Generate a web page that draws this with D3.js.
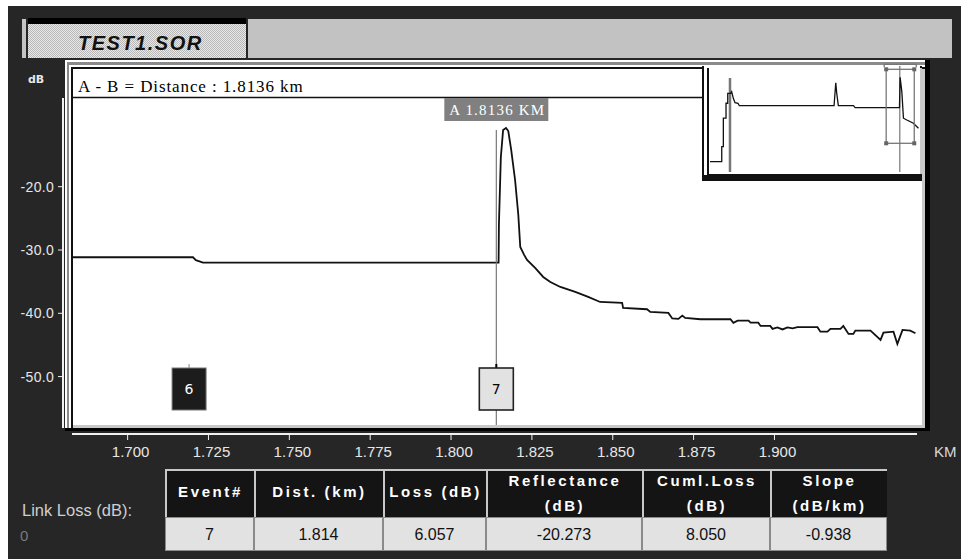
<!DOCTYPE html>
<html><head><meta charset="utf-8">
<script src="https://cdn.jsdelivr.net/npm/d3@7"></script>
<style>body{margin:0;background:#fff;}svg{display:block;}</style>
</head><body>
<svg id="c" width="964" height="559"></svg>
<script>
// ---------- DATA ----------
const fileName = "TEST1.SOR";
const distanceText = "A - B = Distance : 1.8136 km";
const cursorLabel = "A 1.8136 KM";
const cursorKm = 1.814;
const xTicks = [1.700, 1.725, 1.750, 1.775, 1.800, 1.825, 1.850, 1.875, 1.900];
const yTicks = [-20, -30, -40, -50];
const traceKm = [1.6828,1.7202,1.7211,1.7233,1.8147,1.8148,1.8154,1.8161,1.8170,1.8177,1.8186,1.8198,1.8208,1.8214,1.8226,1.8235,1.8260,1.8285,1.8307,1.8338,1.8384,1.8424,1.8461,1.8529,1.8532,1.8606,1.8616,1.8672,1.8684,1.8703,1.8715,1.8724,1.8771,1.8864,1.8873,1.8886,1.8920,1.8926,1.8950,1.8957,1.8987,1.8994,1.9009,1.9025,1.9040,1.9056,1.9071,1.9133,1.9142,1.9164,1.9173,1.9204,1.9213,1.9229,1.9244,1.9250,1.9297,1.9328,1.9337,1.9368,1.9380,1.9396,1.9420,1.9436];
const traceDb = [-31.15,-31.15,-31.6,-32.0,-32.0,-26.05,-15.31,-11.05,-10.73,-11.2,-14.2,-18.94,-24.47,-29.52,-30.78,-31.57,-32.84,-34.26,-35.05,-35.84,-36.63,-37.4,-38.21,-38.36,-39.15,-39.36,-39.79,-39.94,-40.81,-40.89,-40.37,-40.73,-40.94,-40.94,-41.52,-41.16,-41.16,-41.48,-41.48,-42.0,-42.0,-42.47,-42.23,-42.55,-42.23,-42.39,-42.2,-42.2,-42.9,-42.9,-42.47,-42.47,-42.0,-43.26,-43.26,-42.74,-42.74,-44.21,-43.05,-42.9,-44.84,-42.63,-42.74,-43.15];
const insetKm = [0.037,0.147,0.147,0.162,0.162,0.187,0.187,0.203,0.203,0.231,0.240,0.255,0.271,0.299,0.311,1.196,1.212,1.221,1.236,1.377,1.393,1.807,1.813,1.829,1.844,1.876,1.937,1.984];
const insetDb = [-71.85,-71.85,-60.2,-60.2,-38.2,-38.2,-26.6,-26.6,-18.9,-18.9,-17.6,-22.8,-26.2,-26.6,-28.5,-28.5,-10.7,-18.9,-28.5,-28.5,-30.0,-30.0,-6.5,-17.6,-38.2,-39.6,-42.1,-46.0];
const insetMarkersKm = [0.224, 1.81];
const eventIds = [6, 7];
const eventKm = [1.7190, 1.8140];
const tableHeaders = [["Event#"], ["Dist. (km)"], ["Loss (dB)"], ["Reflectance", "(dB)"], ["Cuml.Loss", "(dB)"], ["Slope", "(dB/km)"]];
const tableValues = ["7", "1.814", "6.057", "-20.273", "8.050", "-0.938"];
const linkLossLabel = "Link Loss (dB):";
const linkLossValue = "0";

// ---------- LAYOUT ----------
const svg = d3.select("#c");
const x = d3.scaleLinear().domain([1.6828, 1.945]).range([72, 920]);
const y = d3.scaleLinear().domain([-57.65, -0.3]).range([425, 62]);
const ix = d3.scaleLinear().domain([0, 1.98]).range([706, 918]);
const iy = d3.scaleLinear().domain([-0.3, -57.65]).range([69.3, 143.3]);

// background
svg.append("rect").attr("x",8).attr("y",6).attr("width",953).attr("height",553).attr("fill","#262626");

// title bar
const defs = svg.append("defs");
const pat = defs.append("pattern").attr("id","dith").attr("width",2).attr("height",2).attr("patternUnits","userSpaceOnUse");
pat.append("rect").attr("width",2).attr("height",2).attr("fill","#e8e8e8");
pat.append("rect").attr("width",1).attr("height",1).attr("fill","#b8b8b8");
pat.append("rect").attr("x",1).attr("y",1).attr("width",1).attr("height",1).attr("fill","#b8b8b8");
svg.append("rect").attr("x",22).attr("y",19).attr("width",4).attr("height",39).attr("fill","#c4c4c4");
svg.append("rect").attr("x",248).attr("y",19).attr("width",704).attr("height",39).attr("fill","#c2c2c2");
svg.append("rect").attr("x",28).attr("y",18).attr("width",218).attr("height",6).attr("fill","#000");
svg.append("rect").attr("x",28).attr("y",24).attr("width",218).attr("height",34).attr("fill","url(#dith)");
svg.append("text").attr("x",78).attr("y",50).text(fileName)
  .attr("font-family","Liberation Sans, Arial, sans-serif").attr("font-weight","bold").attr("font-style","italic")
  .attr("font-size",20).attr("letter-spacing",1.5).attr("fill","#111");

// plot frame
svg.append("rect").attr("x",65).attr("y",60).attr("width",865).attr("height",371).attr("fill","#000");
svg.append("rect").attr("x",65).attr("y",60).attr("width",860).attr("height",368).attr("fill","#fff");
svg.append("rect").attr("x",67).attr("y",62).attr("width",858).attr("height",366).attr("fill","#8a8a8a");
svg.append("rect").attr("x",69).attr("y",65).attr("width",856).attr("height",363).attr("fill","#fff");
svg.append("rect").attr("x",71).attr("y",67).attr("width",854).attr("height",361).attr("fill","#111");
svg.append("rect").attr("x",73).attr("y",69).attr("width",852).attr("height",359).attr("fill","#c8c8c8");
svg.append("rect").attr("x",73).attr("y",69).attr("width",849).attr("height",356).attr("fill","#fff");

// header line + text
svg.append("line").attr("x1",73).attr("x2",703).attr("y1",97.5).attr("y2",97.5).attr("stroke","#111").attr("stroke-width",1.5);
svg.append("text").attr("x",78).attr("y",92).text(distanceText)
  .attr("font-family","Liberation Serif, Times New Roman, serif").attr("font-size",17).attr("letter-spacing",0.9).attr("fill","#000");

// y axis
svg.append("line").attr("x1",63).attr("x2",63).attr("y1",98).attr("y2",428).attr("stroke","#f0f0f0").attr("stroke-width",2);
const ya = svg.append("g");
yTicks.forEach(v => {
  ya.append("line").attr("x1",58).attr("x2",63).attr("y1",y(v)).attr("y2",y(v)).attr("stroke","#f0f0f0").attr("stroke-width",1);
  ya.append("text").attr("x",54).attr("y",y(v)+5).attr("text-anchor","end").text(d3.format(".1f")(v).replace("−","-"))
    .attr("font-family","Liberation Sans, Arial, sans-serif").attr("font-size",14).attr("letter-spacing",0.3).attr("fill","#e6e6e6");
});
svg.append("text").attr("x",28).attr("y",83).text("dB").attr("font-family","DejaVu Sans, sans-serif").attr("font-weight","bold")
  .attr("font-size",11).attr("fill","#e8e8e8");

// x axis
svg.append("line").attr("x1",72).attr("x2",917).attr("y1",434).attr("y2",434).attr("stroke","#f0f0f0").attr("stroke-width",2);
const xa = svg.append("g");
xTicks.forEach(v => {
  xa.append("line").attr("x1",x(v)).attr("x2",x(v)).attr("y1",434).attr("y2",440).attr("stroke","#f0f0f0").attr("stroke-width",1);
  xa.append("text").attr("x",x(v)+3).attr("y",457).attr("text-anchor","middle").text(d3.format(".3f")(v))
    .attr("font-family","Liberation Sans, Arial, sans-serif").attr("font-size",15).attr("fill","#e6e6e6");
});
svg.append("text").attr("x",934).attr("y",457).text("KM").attr("font-family","Liberation Sans, Arial, sans-serif")
  .attr("font-size",15).attr("fill","#d8d8d8");

// trace
const trace = traceKm.map((k,i)=>[k, traceDb[i]]);
svg.append("path").datum(trace)
  .attr("d", d3.line().x(d=>x(d[0])).y(d=>y(d[1])))
  .attr("fill","none").attr("stroke","#111").attr("stroke-width",1.8).attr("stroke-linejoin","miter");

// cursor
svg.append("line").attr("x1",x(cursorKm)).attr("x2",x(cursorKm)).attr("y1",130).attr("y2",425).attr("stroke","#777").attr("stroke-width",1.2);
const lab = svg.append("g");
lab.append("rect").attr("x",x(cursorKm)-52).attr("y",98).attr("width",104).attr("height",23).attr("fill","#808080");
lab.append("text").attr("x",x(cursorKm)+1).attr("y",115).attr("text-anchor","middle").text(cursorLabel)
  .attr("font-family","Liberation Serif, Times New Roman, serif").attr("font-size",15).attr("letter-spacing",1.2).attr("fill","#fff");

// events
eventIds.forEach((id,i) => {
  const cx = x(eventKm[i]);
  const dark = i === 0;
  svg.append("line").attr("x1",cx).attr("x2",cx).attr("y1",364).attr("y2",368).attr("stroke", dark ? "#888" : "#000").attr("stroke-width", dark?1:2);
  svg.append("rect").attr("x",cx-17).attr("y",368).attr("width",34).attr("height",42)
    .attr("fill", dark ? "#1c1c1c" : "#e2e2e2").attr("stroke", dark ? "#777" : "#222").attr("stroke-width", dark?1:1.6);
  svg.append("text").attr("x",cx).attr("y",394).attr("text-anchor","middle").text(id)
    .attr("font-family","DejaVu Sans, sans-serif").attr("font-size",14).attr("fill", dark ? "#fff" : "#000");
});

// inset
svg.append("rect").attr("x",702).attr("y",66).attr("width",220).attr("height",115).attr("fill","#111");
svg.append("rect").attr("x",704).attr("y",66).attr("width",216).attr("height",109).attr("fill","#fff");
svg.append("rect").attr("x",707).attr("y",68).attr("width",213).attr("height",107).attr("fill","#111");
svg.append("rect").attr("x",709).attr("y",68).attr("width",211).attr("height",106).attr("fill","#fff");
svg.append("rect").attr("x",920).attr("y",68).attr("width",2).attr("height",106).attr("fill","#c8c8c8");
insetMarkersKm.forEach((k,i)=>{
  svg.append("line").attr("x1",ix(k)).attr("x2",ix(k)).attr("y1", i===0?78:66).attr("y2",172)
    .attr("stroke", "#777").attr("stroke-width", i===0?2.5:1.2);
});
const ins = insetKm.map((k,i)=>[k, insetDb[i]]);
svg.append("path").datum(ins).attr("d", d3.line().x(d=>ix(d[0])).y(d=>iy(d[1])))
  .attr("fill","none").attr("stroke","#111").attr("stroke-width",1.3);
// zoom box = current view
const zx0 = ix(x.domain()[0]), zx1 = ix(x.domain()[1]);
const zy0 = iy(y.domain()[1]), zy1 = iy(y.domain()[0]);
svg.append("rect").attr("x",zx0).attr("y",zy0).attr("width",zx1-zx0).attr("height",zy1-zy0)
  .attr("fill","none").attr("stroke","#777").attr("stroke-width",1.3);
svg.append("path").attr("d",`M${zx0-2},${zy0-2}V${zy0-5}H${zx1+2}V${zy0-2}`).attr("fill","none").attr("stroke","#777").attr("stroke-width",1.3);
[[zx0,zy0],[zx1,zy0],[zx0,zy1],[zx1,zy1]].forEach(p=>{
  svg.append("rect").attr("x",p[0]-2).attr("y",p[1]-2).attr("width",4).attr("height",4).attr("fill","#666");
});

// link loss
svg.append("text").attr("x",22).attr("y",516).text(linkLossLabel).attr("font-family","Liberation Sans, Arial, sans-serif")
  .attr("font-size",16.5).attr("fill","#cfcfcf");
svg.append("text").attr("x",20).attr("y",541).text(linkLossValue).attr("font-family","Liberation Sans, Arial, sans-serif")
  .attr("font-size",15).attr("fill","#7a7a7a");

// table
const colEdges = [165, 254, 383, 486, 642, 770, 887];
const tb = svg.append("g");
tableHeaders.forEach((lines,i)=>{
  const x0 = colEdges[i], x1 = colEdges[i+1], w = x1-x0;
  tb.append("rect").attr("x",x0).attr("y",469).attr("width",w).attr("height",48).attr("fill","#c8c8c8");
  tb.append("rect").attr("x",x0+2).attr("y",471).attr("width",w-2).attr("height",46).attr("fill","#141414");
  const cx = (x0+x1)/2 + 1;
  lines.forEach((t,j)=>{
    const yy = lines.length===1 ? 497 : (j===0 ? 486 : 511);
    tb.append("text").attr("x",cx).attr("y",yy).attr("text-anchor","middle").text(t)
      .attr("font-family","Liberation Sans, Arial, sans-serif").attr("font-weight","bold").attr("font-size",15)
      .attr("letter-spacing",2.6).attr("fill","#fff");
  });
  tb.append("rect").attr("x",x0).attr("y",517).attr("width",w).attr("height",34).attr("fill","#8a8a8a");
  tb.append("rect").attr("x",x0+1).attr("y",518).attr("width",w-2).attr("height",32).attr("fill","#e2e2e2");
  tb.append("text").attr("x",cx-1).attr("y",540).attr("text-anchor","middle").text(tableValues[i])
    .attr("font-family","Liberation Sans, Arial, sans-serif").attr("font-size",16).attr("fill","#111");
});
</script>
</body></html>
